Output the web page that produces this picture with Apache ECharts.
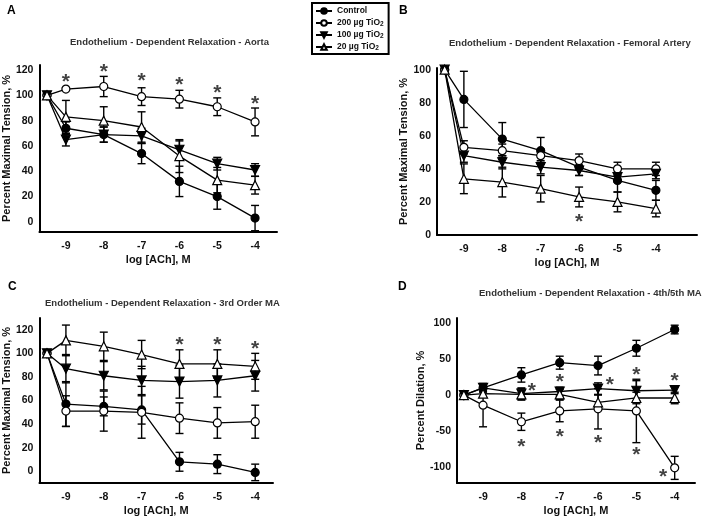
<!DOCTYPE html>
<html>
<head>
<meta charset="utf-8">
<script src="https://cdn.jsdelivr.net/npm/echarts/dist/echarts.min.js"></script>
<style>
html, body { margin: 0; padding: 0; background: #fff; }
#chart { width: 708px; height: 517px; }
</style>
</head>
<body>
<div id="chart"></div>
<script>
// log [ACh] doses, first point is the baseline
var doses = [-9.5, -9, -8, -7, -6, -5, -4];
var doseTicks = [-9, -8, -7, -6, -5, -4];
var groups = ["Control", "200 µg TiO2", "100 µg TiO2", "20 µg TiO2"];

// A - Aorta
var aControl = [100, 74, 69, 54, 32, 20, 3];
var aControlErr = [0, 5, 6, 8, 12, 10, 10];
var a200 = [100, 105, 107, 99, 97, 91, 79];
var a200Err = [0, 1, 8, 7, 7, 7, 11];
var a100 = [100, 65, 69, 68, 57, 46, 41];
var a100Err = [0, 5, 6, 6, 7, 5, 5];
var a20 = [100, 83, 80, 75, 52, 33, 29];
var a20Err = [0, 13, 11, 12, 13, 10, 7];
var aStars = [[-9, 114], [-8, 122], [-7, 115], [-6, 112], [-5, 106], [-4, 97]];
var aTicks = [0, 20, 40, 60, 80, 100, 120];

// B - Femoral artery
var bControl = [100, 82, 58, 51, 41, 33, 27];
var bControlErr = [0, 17, 10, 8, 5, 7, 6];
var b200 = [100, 53, 51, 48, 45, 40, 40];
var b200Err = [0, 4, 4, 4, 4, 4, 4];
var b100 = [100, 48, 44, 41, 39, 35, 37];
var b100Err = [0, 4, 4, 4, 3, 3, 3];
var b20 = [100, 34, 32, 28, 23, 20, 16];
var b20Err = [0, 9, 9, 8, 6, 6, 5];
var bStars = [[-6, 11]];
var bTicks = [0, 20, 40, 60, 80, 100];

// C - 3rd order MA
var cControl = [100, 57, 55, 52, 8, 6, -1];
var cControlErr = [0, 19, 8, 12, 8, 8, 7];
var c200 = [100, 51, 51, 50, 45, 41, 42];
var c200Err = [0, 13, 17, 22, 13, 13, 14];
var c100 = [100, 87, 81, 77, 76, 77, 81];
var c100Err = [0, 12, 12, 12, 14, 14, 13];
var c20 = [100, 111, 106, 99, 91, 91, 89];
var c20Err = [0, 13, 12, 12, 12, 12, 11];
var cStars = [[-6, 111], [-5, 111], [-4, 108]];
var cTicks = [0, 20, 40, 60, 80, 100, 120];

// D - 4th/5th MA
var dControl = [0, 10, 28, 45, 41, 65, 91];
var dControlErr = [0, 6, 10, 9, 13, 11, 6];
var d200 = [0, -14, -37, -22, -19, -22, -101];
var d200Err = [0, 30, 12, 15, 28, 44, 16];
var d100 = [0, 10, 2, 5, 9, 6, 7];
var d100Err = [0, 5, 8, 6, 8, 14, 5];
var d20 = [0, 2, 1, 1, -10, -4, -4];
var d20Err = [0, 5, 8, 7, 10, 8, 8];
var dStars = [[-7.73, 13], [-8, -66], [-7, 25], [-7, -51], [-5.69, 20], [-6, -60], [-5, 34], [-5, -76], [-4, 26], [-4.3, -107]];
var dTicks = [-100, -50, 0, 50, 100];

var panels = [
	{ vals: [aControl, a200, a100, a20], errs: [aControlErr, a200Err, a100Err, a20Err], stars: aStars, ticks: aTicks,
		grid: { left: 36, top: 65, width: 241, height: 167 }, x: [-9.7, -3.42], y: [-8, 124], yName: "Percent Maximal Tension, %", yGap: 24 },
	{ vals: [bControl, b200, b100, b20], errs: [bControlErr, b200Err, b100Err, b20Err], stars: bStars, ticks: bTicks,
		grid: { left: 437, top: 68, width: 260, height: 167 }, x: [-9.7, -2.93], y: [0, 101], yName: "Percent Maximal Tension, %", yGap: 27 },
	{ vals: [cControl, c200, c100, c20], errs: [cControlErr, c200Err, c100Err, c20Err], stars: cStars, ticks: cTicks,
		grid: { left: 36, top: 318, width: 237, height: 166 }, x: [-9.7, -3.53], y: [-10, 130], yName: "Percent Maximal Tension, %", yGap: 24 },
	{ vals: [dControl, d200, d100, d20], errs: [dControlErr, d200Err, d100Err, d20Err], stars: dStars, ticks: dTicks,
		grid: { left: 457, top: 318, width: 238, height: 166 }, x: [-9.68, -3.47], y: [-122, 107], yName: "Percent Dilation, %", yGap: 30 }
];

var font = "Liberation Sans";
var symbols = [
	{ symbol: "circle", size: 8, rotate: 0, fill: "#000" },
	{ symbol: "circle", size: 8, rotate: 0, fill: "#fff" },
	{ symbol: "triangle", size: 9, rotate: 180, fill: "#000" },
	{ symbol: "triangle", size: 9, rotate: 0, fill: "#fff" }
];

function errorBars(i, vals, errs) {
	var data = [];
	doses.forEach(function(x, j) {
		if (errs[j] > 0) data.push([x, vals[j] - errs[j], vals[j] + errs[j]]);
	});
	return {
		type: "custom",
		xAxisIndex: i,
		yAxisIndex: i,
		z: 1,
		silent: true,
		data: data,
		renderItem: function(params, api) {
			var lo = api.coord([api.value(0), api.value(1)]);
			var hi = api.coord([api.value(0), api.value(2)]);
			var w = 4;
			var style = { stroke: "#000", lineWidth: 1.4 };
			return {
				type: "group",
				children: [
					{ type: "line", shape: { x1: lo[0], y1: lo[1], x2: hi[0], y2: hi[1] }, style: style },
					{ type: "line", shape: { x1: lo[0] - w, y1: lo[1], x2: lo[0] + w, y2: lo[1] }, style: style },
					{ type: "line", shape: { x1: hi[0] - w, y1: hi[1], x2: hi[0] + w, y2: hi[1] }, style: style }
				]
			};
		}
	};
}

var grids = [], xAxes = [], yAxes = [], series = [];
panels.forEach(function(p, i) {
	grids.push(p.grid);
	xAxes.push({
		type: "value", gridIndex: i, min: p.x[0], max: p.x[1],
		name: "log [ACh], M", nameLocation: "middle", nameGap: 22,
		nameTextStyle: { fontFamily: font, fontWeight: "bold", fontSize: 11, color: "#111" },
		axisLine: { onZero: false, lineStyle: { color: "#000", width: 2 } },
		axisTick: { show: false },
		splitLine: { show: false },
		axisLabel: { customValues: doseTicks, fontFamily: font, fontWeight: "bold", fontSize: 10.5, color: "#111", margin: 9 }
	});
	yAxes.push({
		type: "value", gridIndex: i, min: p.y[0], max: p.y[1],
		name: p.yName, nameLocation: "middle", nameGap: p.yGap,
		nameTextStyle: { fontFamily: font, fontWeight: "bold", fontSize: 11, color: "#111" },
		axisLine: { onZero: false, lineStyle: { color: "#000", width: 2 } },
		axisTick: { show: false },
		splitLine: { show: false },
		axisLabel: { customValues: p.ticks, fontFamily: font, fontWeight: "bold", fontSize: 10.5, color: "#111", margin: 6 }
	});
	p.vals.forEach(function(vals, g) {
		series.push(errorBars(i, vals, p.errs[g]));
	});
	p.vals.forEach(function(vals, g) {
		var s = symbols[g];
		series.push({
			name: groups[g],
			type: "line",
			xAxisIndex: i,
			yAxisIndex: i,
			z: 3,
			data: doses.map(function(x, j) { return [x, vals[j]]; }),
			symbol: s.symbol,
			symbolSize: s.size,
			symbolRotate: s.rotate,
			showAllSymbol: true,
			lineStyle: { color: "#000", width: 1.3 },
			itemStyle: { color: s.fill, borderColor: "#000", borderWidth: 1.2 },
			animation: false
		});
	});
	series.push({
		type: "scatter",
		xAxisIndex: i,
		yAxisIndex: i,
		z: 4,
		symbolSize: 1,
		itemStyle: { color: "transparent" },
		data: p.stars,
		label: {
			show: true, position: "inside", formatter: "*",
			fontFamily: font, fontWeight: "bold", fontSize: 21, color: "#111", offset: [0, 5]
		}
	});
});

var titleStyle = { fontFamily: font, fontWeight: "bold", fontSize: 9.5, color: "#333" };
var letterStyle = { fontFamily: font, fontWeight: "bold", fontSize: 12, color: "#000" };

var option = {
	animation: false,
	backgroundColor: "#fff",
	title: [
		{ text: "A", left: 2, top: 0, textStyle: letterStyle },
		{ text: "B", left: 394, top: 0, textStyle: letterStyle },
		{ text: "C", left: 3, top: 276, textStyle: letterStyle },
		{ text: "D", left: 393, top: 276, textStyle: letterStyle },
		{ text: "Endothelium - Dependent Relaxation - Aorta", left: 65, top: 32, textStyle: titleStyle },
		{ text: "Endothelium - Dependent Relaxation - Femoral Artery", left: 444, top: 33, textStyle: titleStyle },
		{ text: "Endothelium - Dependent Relaxation - 3rd Order MA", left: 40, top: 293, textStyle: titleStyle },
		{ text: "Endothelium - Dependent Relaxation - 4th/5th MA", left: 474, top: 283, textStyle: titleStyle }
	],
	legend: {
		data: groups,
		orient: "vertical",
		left: 312,
		top: 3,
		padding: [3, 5, 2, 3],
		itemGap: 1,
		itemWidth: 16,
		itemHeight: 7,
		borderColor: "#000",
		borderWidth: 2,
		formatter: function(name) {
			return name.replace("TiO2", "TiO{s|2}");
		},
		textStyle: {
			fontFamily: font, fontWeight: "bold", fontSize: 8.5, color: "#111", lineHeight: 10,
			rich: { s: { fontFamily: font, fontWeight: "bold", fontSize: 6.5, verticalAlign: "bottom", lineHeight: 10, padding: [4, 0, 0, 0] } }
		}
	},
	grid: grids,
	xAxis: xAxes,
	yAxis: yAxes,
	series: series
};

var chart = echarts.init(document.getElementById("chart"), null, { renderer: "canvas" });
chart.setOption(option);
</script>
</body>
</html>
